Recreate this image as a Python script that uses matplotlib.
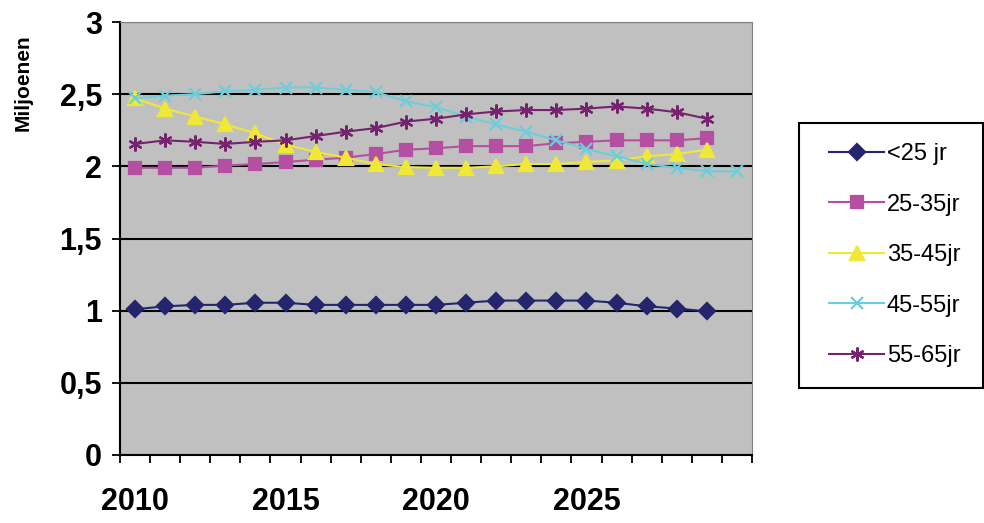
import matplotlib
matplotlib.use("Agg")
import matplotlib.pyplot as plt
from matplotlib.patches import Rectangle
from matplotlib.ticker import FixedLocator, FuncFormatter

# data (miljoenen)
years = list(range(2010, 2031))
year_labels = ["2010", "2015", "2020", "2025"]

jong = [1.01, 1.03, 1.04, 1.04, 1.055, 1.055, 1.04, 1.04, 1.04, 1.04,
        1.04, 1.055, 1.07, 1.07, 1.07, 1.07, 1.055, 1.03, 1.015, 0.995]
g25_35 = [1.99, 1.99, 1.99, 2.005, 2.016, 2.03, 2.046, 2.06, 2.085, 2.115,
          2.125, 2.14, 2.14, 2.14, 2.16, 2.17, 2.18, 2.18, 2.18, 2.195]
g35_45 = [2.47, 2.40, 2.345, 2.29, 2.23, 2.15, 2.10, 2.06, 2.015, 1.995,
          1.99, 1.99, 2.0, 2.016, 2.016, 2.03, 2.04, 2.07, 2.085, 2.115]
g45_55 = [2.47, 2.49, 2.50, 2.52, 2.53, 2.546, 2.546, 2.53, 2.515, 2.45,
          2.41, 2.345, 2.29, 2.24, 2.18, 2.12, 2.07, 2.016, 1.99, 1.965, 1.965]
g55_65 = [2.155, 2.18, 2.17, 2.155, 2.17, 2.18, 2.21, 2.24, 2.265, 2.31,
          2.33, 2.36, 2.38, 2.39, 2.39, 2.40, 2.415, 2.40, 2.375, 2.33]

labels = ["<25 jr", "25-35jr", "35-45jr", "45-55jr", "55-65jr"]
series = [jong, g25_35, g35_45, g45_55, g55_65]
colors = ["#25256E", "#B44FA1", "#EFE836", "#6BCFDB", "#76236F"]
markers = ["D", "s", "^", "x", (6, 2, 0)]
msizes = [8, 9, 10, 9, 10]

plt.rcParams['font.family'] = ['Liberation Sans', 'DejaVu Sans']

W, H = 984, 523
fig = plt.figure(figsize=(W / 100, H / 100), dpi=100)
ax = fig.add_axes([120/W, 1-455/H, (752-120)/W, (455-22)/H])
ax.set_facecolor("#C0C0C0")

for vals, lab, c, m, ms in zip(series, labels, colors, markers, msizes):
    x = list(range(len(vals)))
    ax.plot(x, vals, color=c, lw=1.5, marker=m, markersize=ms,
            markeredgewidth=1.6, markerfacecolor=c, markeredgecolor=c,
            label=lab, zorder=3)

ax.set_ylim(0, 3)
ax.set_xlim(-0.5, len(years) - 0.5)

# gridlines
ax.set_yticks([0, 0.5, 1, 1.5, 2, 2.5, 3])
ax.yaxis.set_major_formatter(FuncFormatter(lambda v, p: f"{v:g}".replace(".", ",")))
ax.grid(axis="y", color="black", lw=1.5, zorder=1)
ax.set_axisbelow(True)

# category axis: ticks between categories, labels every 5 years
ax.xaxis.set_major_locator(FixedLocator([i - 0.5 for i in range(len(years) + 1)]))
ax.xaxis.set_major_formatter(FuncFormatter(lambda v, p: ""))
ax.set_xticks([years.index(int(y)) for y in year_labels], minor=True)
ax.set_xticklabels(year_labels, minor=True)
ax.tick_params(axis="x", which="major", direction="out", length=6, width=1.3)
ax.tick_params(axis="x", which="minor", length=0, pad=23, labelsize=22)
ax.tick_params(axis="y", direction="out", length=6, width=1.3, labelsize=22, pad=7)
for t in ax.get_xticklabels(minor=True) + ax.get_yticklabels():
    t.set_fontweight("bold")

ax.spines["left"].set_linewidth(1.5)
ax.spines["bottom"].set_linewidth(1.5)
ax.spines["top"].set_color("#808080")
ax.spines["right"].set_color("#808080")

fig.text(23/W, 1-83/H, "Miljoenen", rotation=90, ha="center", va="center",
         fontsize=15, fontweight="bold")

# legend frame drawn separately, entries placed inside
fig.patches.append(Rectangle((799/W, 1-388/H), (983-799)/W, (388-123)/H,
                             transform=fig.transFigure, fill=False,
                             edgecolor="black", lw=1.5))
leg = fig.legend(loc="upper left", bbox_to_anchor=(829/W, 1-143/H),
                 fontsize=17, frameon=False, borderaxespad=0, borderpad=0,
                 handlelength=2.35, handletextpad=0.1, labelspacing=1.21)

fig.savefig("out.png", dpi=100)
